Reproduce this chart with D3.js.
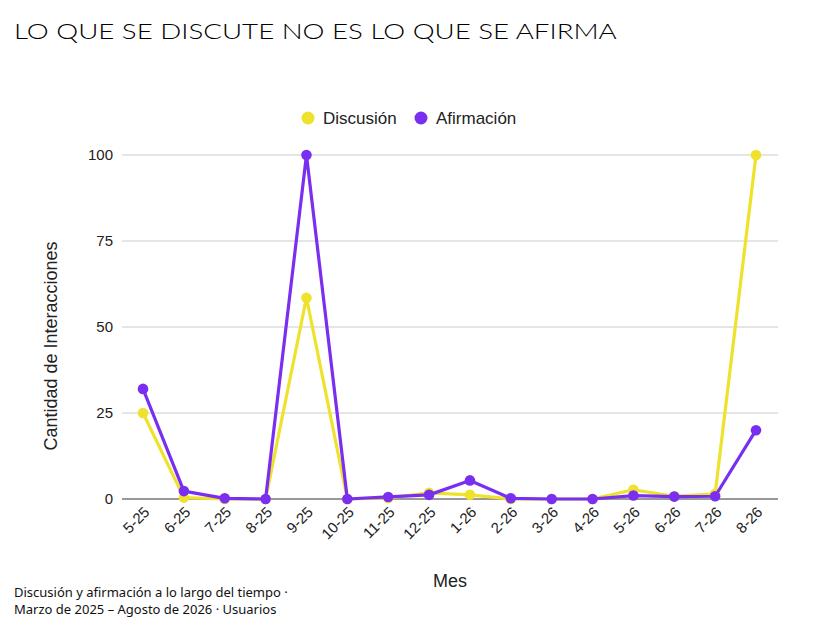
<!DOCTYPE html>
<html>
<head>
<meta charset="utf-8">
<script src="https://d3js.org/d3.v7.min.js"></script>
<style>
  body { margin: 0; background: #fff; }
  svg { display: block; }
</style>
</head>
<body>
<div id="chart"></div>
<script>
// months on the x axis
const months = ["5-25", "6-25", "7-25", "8-25", "9-25", "10-25", "11-25", "12-25",
  "1-26", "2-26", "3-26", "4-26", "5-26", "6-26", "7-26", "8-26"];

// values
const discusion = [25, 0.4, 0, 0, 58.5, 0, 0.3, 1.8, 1.2, 0, 0, 0, 2.7, 0.8, 1.5, 100];
const afirmacion = [32, 2.3, 0.2, 0, 100, 0, 0.6, 1.2, 5.4, 0.2, 0, 0, 1, 0.7, 0.8, 20];

const yTicks = [0, 25, 50, 75, 100];

const seriesNames = ["Discusión", "Afirmación"];
const seriesColors = ["#EEE22C", "#7A2FF0"];

const W = 818, H = 627;
const svg = d3.select("#chart").append("svg")
  .attr("width", W)
  .attr("height", H);

const plot = { left: 122, right: 778, top: 155, bottom: 499 };
const sans = "'Liberation Sans', Arial, sans-serif";

const x = d3.scalePoint()
  .domain(months)
  .range([143, 756]);

const y = d3.scaleLinear()
  .domain([0, 100])
  .range([plot.bottom, plot.top]);

// title: the original face has very wide capitals, so stretch it horizontally
const titleG = svg.append("g");
const title = titleG.append("text")
  .attr("x", 0)
  .attr("y", 0)
  .style("font-family", "Lato, sans-serif")
  .style("font-weight", "300")
  .style("font-size", "22.5px")
  .style("fill", "#000")
  .text("LO QUE SE DISCUTE NO ES LO QUE SE AFIRMA");
const tw = title.node().getComputedTextLength();
titleG.attr("transform", `translate(14,39) scale(${603 / tw},1)`);

// gridlines
svg.append("g")
  .selectAll("line")
  .data(yTicks.filter(d => d !== 0))
  .join("line")
  .attr("x1", plot.left)
  .attr("x2", plot.right)
  .attr("y1", d => y(d))
  .attr("y2", d => y(d))
  .attr("stroke", "#cccccc")
  .attr("stroke-width", 1);

// y axis labels
const yAxis = d3.axisLeft(y).tickValues(yTicks).tickSize(0).tickPadding(9);
const gy = svg.append("g")
  .attr("transform", `translate(${plot.left},0)`)
  .call(yAxis);
gy.select(".domain").remove();
gy.selectAll("text")
  .style("font-family", sans)
  .style("font-size", "15px")
  .style("fill", "#222");

// baseline
svg.append("line")
  .attr("x1", plot.left)
  .attr("x2", plot.right)
  .attr("y1", y(0))
  .attr("y2", y(0))
  .attr("stroke", "#333")
  .attr("stroke-width", 1);

// x axis labels
const xAxis = d3.axisBottom(x).tickSize(0).tickPadding(0);
const gx = svg.append("g")
  .attr("transform", `translate(0,${plot.bottom})`)
  .call(xAxis);
gx.select(".domain").remove();
gx.selectAll("text")
  .style("font-family", sans)
  .style("font-size", "15px")
  .style("fill", "#222")
  .attr("text-anchor", "end")
  .attr("dy", "0")
  .attr("transform", "translate(7,14) rotate(-45)");

// axis titles
svg.append("text")
  .attr("transform", "rotate(-90)")
  .attr("x", -346)
  .attr("y", 57)
  .attr("text-anchor", "middle")
  .style("font-family", sans)
  .style("font-size", "18px")
  .style("fill", "#222")
  .text("Cantidad de Interacciones");

svg.append("text")
  .attr("x", 450)
  .attr("y", 587)
  .attr("text-anchor", "middle")
  .style("font-family", sans)
  .style("font-size", "18px")
  .style("fill", "#222")
  .text("Mes");

// lines and points
const line = d3.line()
  .x((d, i) => x(months[i]))
  .y(d => y(d));

[discusion, afirmacion].forEach((vals, k) => {
  svg.append("path")
    .datum(vals)
    .attr("d", line)
    .attr("fill", "none")
    .attr("stroke", seriesColors[k])
    .attr("stroke-width", 3.2)
    .attr("stroke-linejoin", "round");

  svg.append("g")
    .selectAll("circle")
    .data(vals)
    .join("circle")
    .attr("cx", (d, i) => x(months[i]))
    .attr("cy", d => y(d))
    .attr("r", 5.3)
    .attr("fill", seriesColors[k]);
});

// legend
const legendX = [308, 421];
const legend = svg.append("g");
seriesNames.forEach((name, k) => {
  legend.append("circle")
    .attr("cx", legendX[k])
    .attr("cy", 118)
    .attr("r", 6.5)
    .attr("fill", seriesColors[k]);
  legend.append("text")
    .attr("x", legendX[k] + 15)
    .attr("y", 124)
    .style("font-family", sans)
    .style("font-size", "17px")
    .style("fill", "#222")
    .text(name);
});

// footer
const footer = svg.append("text")
  .attr("x", 14)
  .attr("y", 597)
  .style("font-family", "'Noto Sans', sans-serif")
  .style("font-size", "13px")
  .style("fill", "#111");
footer.append("tspan").attr("x", 14).text("Discusión y afirmación a lo largo del tiempo ·");
footer.append("tspan").attr("x", 14).attr("dy", 17).text("Marzo de 2025 – Agosto de 2026 · Usuarios");
</script>
</body>
</html>
